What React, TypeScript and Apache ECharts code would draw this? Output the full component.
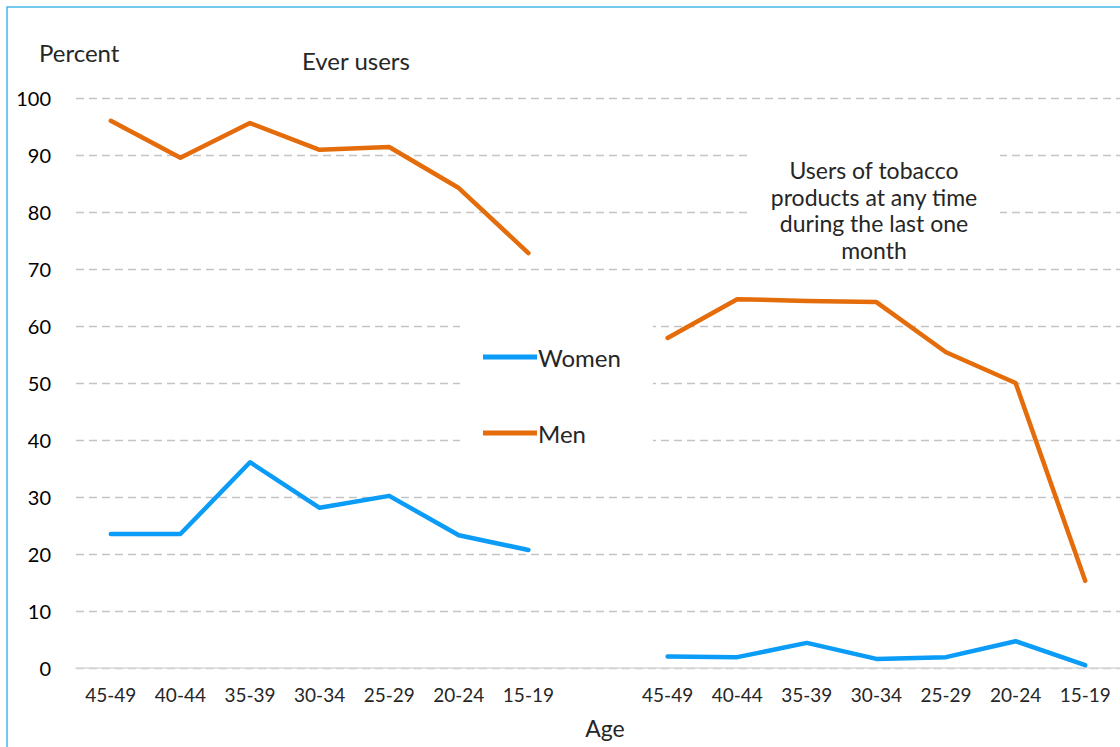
import React, { useEffect, useRef } from "react";
import * as echarts from "echarts";

const categories = [
  "45-49", "40-44", "35-39", "30-34", "25-29", "20-24", "15-19",
  "",
  "45-49", "40-44", "35-39", "30-34", "25-29", "20-24", "15-19",
];

const womenEver = [23.5, 23.5, 36.1, 28.1, 30.2, 23.3, 20.7];
const menEver = [96.0, 89.5, 95.6, 90.9, 91.4, 84.2, 72.8];
const womenMonth = [2.0, 1.9, 4.4, 1.6, 1.9, 4.7, 0.5];
const menMonth = [57.9, 64.7, 64.4, 64.2, 55.4, 50.0, 15.3];

const yTicks = { min: 0, max: 100, interval: 10 };

const FONT = "Lato";
const TEXT = "#262626";
const BLUE = "#0A9CF7";
const ORANGE = "#E46C0A";

export default function App() {
  const ref = useRef<HTMLDivElement>(null);
  useEffect(() => {
    if (!ref.current) return;
    const chart = echarts.init(ref.current, null, { renderer: "svg" });
    const women = [...womenEver, null, ...womenMonth];
    const men = [...menEver, null, ...menMonth];
    chart.setOption({
      animation: false,
      backgroundColor: "#fff",
      textStyle: { fontFamily: FONT },
      grid: { left: 76, right: 0, top: 98, bottom: 79, containLabel: false },
      legend: {
        orient: "vertical",
        left: 460,
        top: 321,
        padding: [24, 32, 4, 23],
        backgroundColor: "#fff",
        itemWidth: 54,
        itemHeight: 5,
        itemGap: 52,
        icon: "rect",
        data: ["Women", "Men"],
        textStyle: { fontFamily: FONT, fontSize: 24, color: TEXT, padding: [0, 0, 0, -4] },
      },
      xAxis: {
        type: "category",
        data: categories,
        boundaryGap: true,
        axisLine: { show: true, lineStyle: { color: "#D9D9D9", width: 1.5 } },
        axisTick: { show: false },
        axisLabel: { fontFamily: FONT, fontSize: 19, color: TEXT, margin: 17, interval: 0 },
      },
      yAxis: {
        type: "value",
        min: yTicks.min,
        max: yTicks.max,
        interval: yTicks.interval,
        axisLine: { show: false },
        axisTick: { show: false },
        axisLabel: { fontFamily: FONT, fontSize: 20, color: "#000", margin: 25 },
        splitLine: { lineStyle: { color: "#C4C4C4", type: [8, 5], width: 1.3 } },
      },
      series: [
        {
          name: "Women",
          type: "line",
          data: women,
          symbol: "none",
          connectNulls: false,
          lineStyle: { color: BLUE, width: 4.5, cap: "round", join: "round" },
          itemStyle: { color: BLUE },
        },
        {
          name: "Men",
          type: "line",
          data: men,
          symbol: "none",
          connectNulls: false,
          lineStyle: { color: ORANGE, width: 4.5, cap: "round", join: "round" },
          itemStyle: { color: ORANGE },
        },
      ],
      graphic: [
        {
          type: "rect",
          z: 10,
          shape: { x: 7, y: 7, width: 1300, height: 1000 },
          style: { fill: "none", stroke: "#45B8E8", lineWidth: 1.5 },
          silent: true,
        },
        {
          type: "text",
          z: 10,
          x: 39,
          y: 52,
          style: { text: "Percent", fontFamily: FONT, fontSize: 24, fill: TEXT, textVerticalAlign: "middle" },
        },
        {
          type: "text",
          z: 10,
          x: 302,
          y: 60,
          style: { text: "Ever users", fontFamily: FONT, fontSize: 24, fill: TEXT, textVerticalAlign: "middle" },
        },
        {
          type: "rect",
          z: 10,
          shape: { x: 748, y: 150, width: 252, height: 112 },
          style: { fill: "#fff" },
          silent: true,
        },
        {
          type: "text",
          z: 11,
          x: 874,
          y: 157,
          style: {
            text: "Users of tobacco\nproducts at any time\nduring the last one\nmonth",
            fontFamily: FONT,
            fontSize: 23,
            lineHeight: 26.5,
            fill: TEXT,
            textAlign: "center",
            textVerticalAlign: "top",
          },
        },
        {
          type: "text",
          z: 10,
          x: 605,
          y: 728,
          style: {
            text: "Age",
            fontFamily: FONT,
            fontSize: 23,
            fill: TEXT,
            textAlign: "center",
            textVerticalAlign: "middle",
          },
        },
      ],
    });
    return () => chart.dispose();
  }, []);
  return (
    <div
      ref={ref}
      style={{ position: "absolute", left: 0, top: 0, width: 1120, height: 747 }}
    />
  );
}
